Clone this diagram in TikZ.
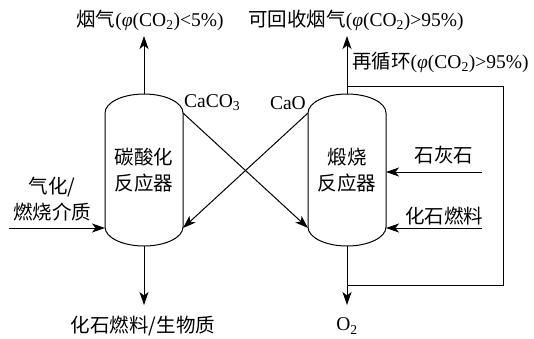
\documentclass[tikz,border=0pt]{standalone}
\usepackage{fontspec}
\setmainfont{Liberation Serif}
\newfontfamily\cjk{Noto Sans CJK SC}
\usetikzlibrary{arrows.meta}
\tikzset{
  every node/.style={inner sep=0pt, font=\fontsize{19.5}{26}\selectfont},
  line/.style={line width=1pt},
  arr/.style={line width=1pt, -{Stealth[length=13pt,width=9pt,inset=3.5pt]}},
  lbl/.style={align=center},
  reactorbox/.style={minimum width=78pt, minimum height=152pt, align=center}
}
\newcommand{\phiCO}{\textit{φ}(CO\textsubscript{2})}
\newcommand{\reactorshape}[1]{%
  \draw[line] (#1-39,113) .. controls (#1-39,102.5) and (#1-21.5,94) .. (#1,94)
     .. controls (#1+21.5,94) and (#1+39,102.5) .. (#1+39,113)
     -- (#1+39,227) .. controls (#1+39,237.5) and (#1+21.5,246) .. (#1,246)
     .. controls (#1-21.5,246) and (#1-39,237.5) .. (#1-39,227) -- cycle;}
\begin{document}
\begin{tikzpicture}[x=1pt,y=-1pt]
\useasboundingbox (0,0) rectangle (534,338);
% reactors
\reactorshape{144}
\reactorshape{347}
\node[reactorbox] (L) at (144,170) {{\cjk 碳酸化}\\{\cjk 反应器}};
\node[reactorbox] (R) at (347,170) {{\cjk 煅烧}\\{\cjk 反应器}};
% body corner coordinates
\coordinate (Lne) at (183,113);
\coordinate (Lse) at (183,228);
\coordinate (Lsw) at (105,228);
\coordinate (Rnw) at (308,113);
\coordinate (Rsw) at (308,228);
\coordinate (Rte) at (386,172);
\coordinate (Rbe) at (386,228);
% labels
\node (fluegas) at (150,20) {{\cjk 烟气}(\phiCO<5\%)};
\node (recgas) at (356,20) {{\cjk 可回收烟气}(\phiCO>95\%)};
\node[anchor=west] (recyc) at (352,62) {{\cjk 再循环}(\phiCO>95\%)};
\node[anchor=west] (caco3) at (184,103) {CaCO\textsubscript{3}};
\node[anchor=east] (cao) at (306,103) {CaO};
\node[lbl] (medium) at (52,199) {{\cjk 气化/}\\{\cjk 燃烧介质}};
\node (lime) at (444,155) {\cjk 石灰石};
\node (fuel) at (444,216) {\cjk 化石燃料};
\node (fuelbio) at (143,326) {\cjk 化石燃料/生物质};
\node (o2) at (347,326) {O\textsubscript{2}};
% connector endpoints
\coordinate (Ltop) at (144,36);
\coordinate (Rtop) at (347,36);
\coordinate (Lbot) at (144,305);
\coordinate (Rbot) at (347,305);
\coordinate (inL) at (9,228);
\coordinate (inR1) at (482,172);
\coordinate (inR2) at (482,228);
\coordinate (rec1) at (347,285);
\coordinate (rec2) at (503,285);
\coordinate (rec3) at (503,86);
\coordinate (rec4) at (347,86);
% arrows
\draw[arr] (L.north) -- (Ltop);
\draw[arr] (R.north) -- (Rtop);
\draw[arr] (L.south) -- (Lbot);
\draw[arr] (R.south) -- (Rbot);
\draw[arr] (inL) -- (Lsw);
\draw[arr] (inR1) -- (Rte);
\draw[arr] (inR2) -- (Rbe);
\draw[arr] (Lne) -- (Rsw);
\draw[arr] (Rnw) -- (Lse);
\draw[line] (rec1) -- (rec2) -- (rec3) -- (rec4);
\end{tikzpicture}
\end{document}
